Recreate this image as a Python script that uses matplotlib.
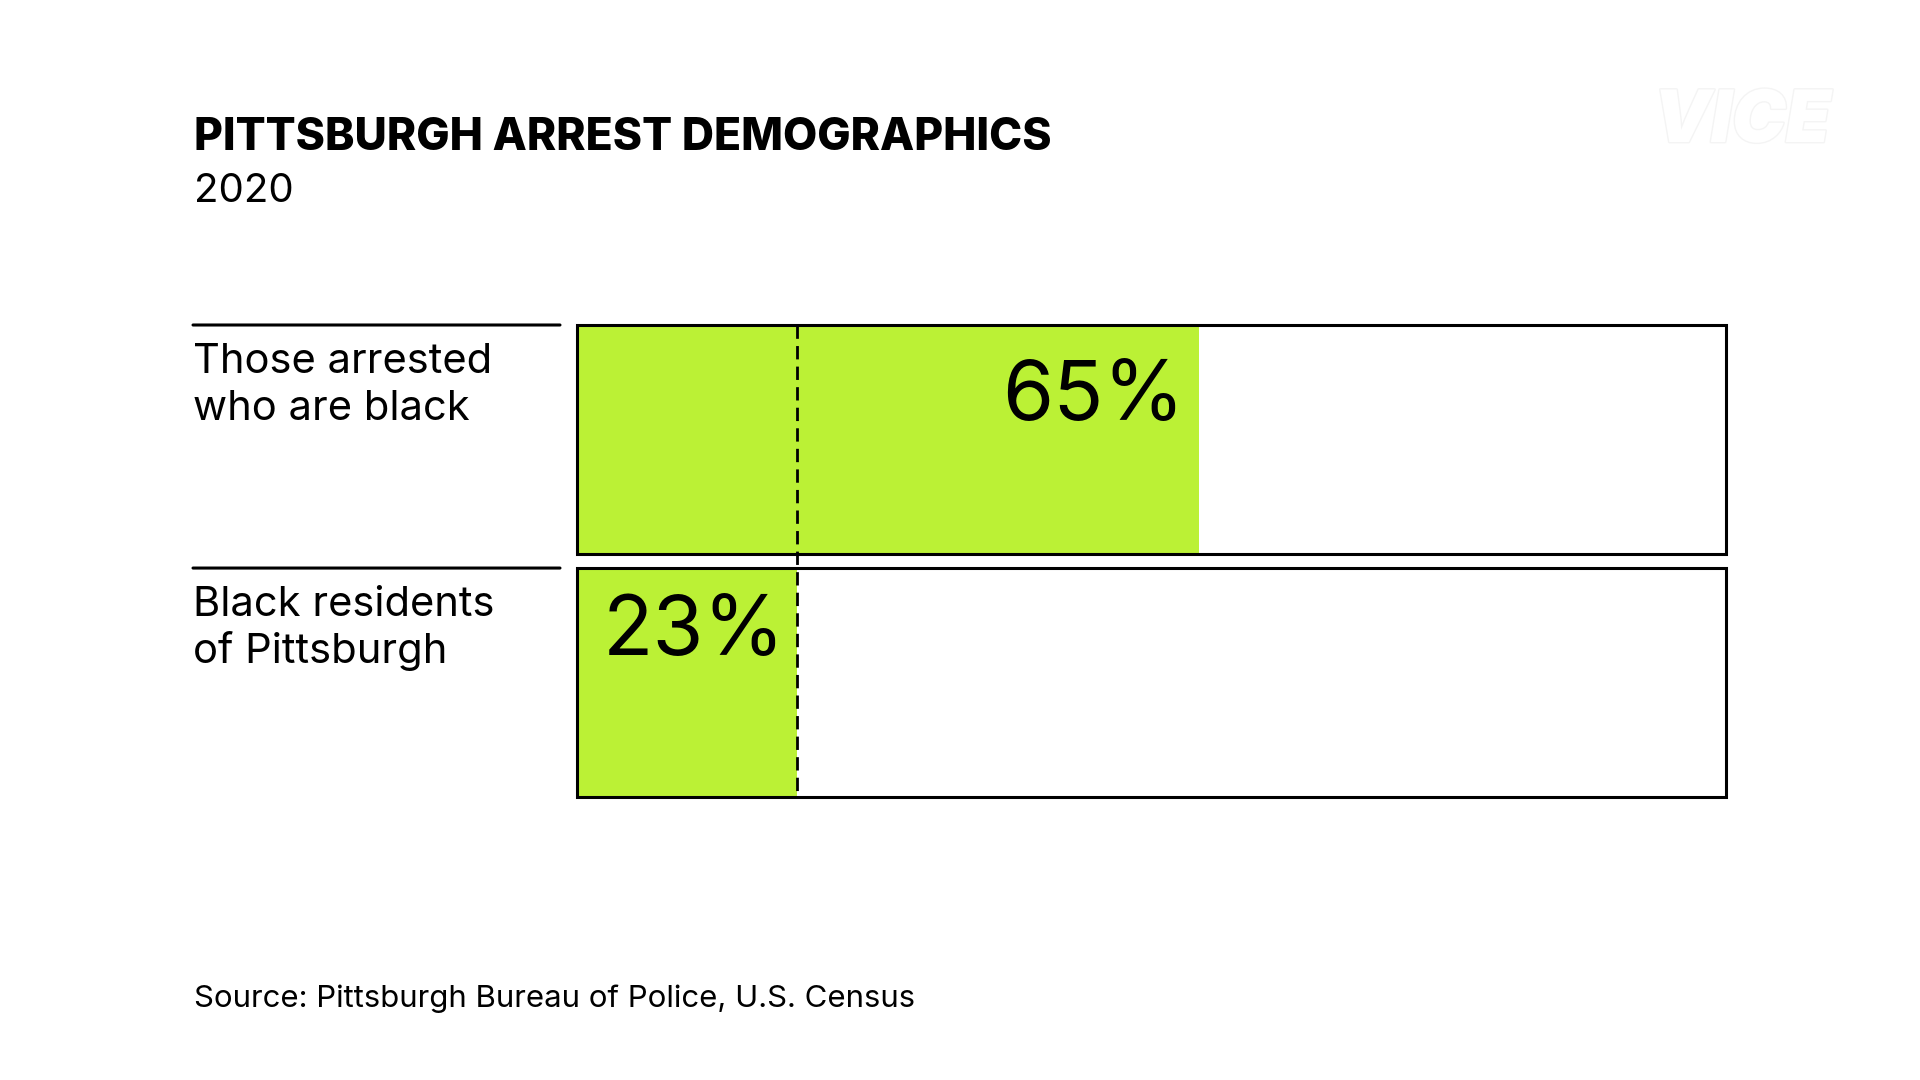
import numpy as np
import matplotlib
matplotlib.use('Agg')
import matplotlib.pyplot as plt
import matplotlib.patheffects as pe

plt.rcParams['font.family'] = ['Inter', 'DejaVu Sans']

# data
labels = [['Those arrested', 'who are black'], ['Black residents', 'of Pittsburgh']]
values = [65, 23]
value_text = ['65%', '23%']
scale_max = 120

title = 'PITTSBURGH ARREST DEMOGRAPHICS'
subtitle = '2020'
source = 'Source: Pittsburgh Bureau of Police, U.S. Census'

GREEN = '#bbf135'
W, H = 1920, 1080
DPI = 100


def fx(px):
    return px / W


def fy(py):
    return 1 - py / H


def main():
    fig = plt.figure(figsize=(W / DPI, H / DPI), dpi=DPI)
    fig.patch.set_facecolor('white')

    # plot area = outer boxes
    ax = fig.add_axes([fx(577), fy(797), fx(1726) - fx(577), (797 - 325) / H])
    ax.set_xlim(0, scale_max)
    ax.set_ylim(1.471, -0.471)
    ax.axis('off')

    ypos = np.arange(len(values))
    bh = 0.942
    ax.barh(ypos, values, height=bh, color=GREEN, edgecolor='none', zorder=1)
    frames = ax.barh(ypos, [scale_max] * len(values), height=bh, fill=False,
                     edgecolor='black', linewidth=2.2, zorder=3)
    for f in frames:
        f.set_clip_on(False)

    # dashed reference line at the residents share
    ax.plot([values[1], values[1]], [-0.471, 1.471], color='black', lw=2.0,
            dashes=(4.8, 2.6), zorder=2, clip_on=False)

    row_top = ypos - bh / 2
    label_off = [(-15, -95), (-12, -87)]
    for i in range(len(values)):
        # rule above category label
        ax.annotate('', xy=(fx(560), row_top[i]), xytext=(fx(193), row_top[i]),
                    xycoords=('figure fraction', 'data'),
                    textcoords=('figure fraction', 'data'),
                    arrowprops=dict(arrowstyle='-', lw=2.2, color='black',
                                    shrinkA=0, shrinkB=0))
        for j, line in enumerate(labels[i]):
            ax.annotate(line, xy=(fx(193), row_top[i]),
                        xycoords=('figure fraction', 'data'),
                        xytext=(0, -48 - 47 * j), textcoords='offset pixels',
                        ha='left', va='baseline', fontsize=30, color='black')
        ax.annotate(value_text[i], xy=(values[i], row_top[i]),
                    xytext=label_off[i], textcoords='offset pixels',
                    ha='right', va='baseline', fontsize=59.5, color='black')

    fig.text(fx(194), fy(150), title, fontsize=32, fontweight='heavy',
             ha='left', va='baseline')
    fig.text(fx(194), fy(202), subtitle, fontsize=29, ha='left', va='baseline')
    fig.text(fx(194), fy(1007), source, fontsize=22.4, ha='left', va='baseline')

    # faint watermark
    fig.text(fx(1742), fy(142), 'VICE', fontsize=52, fontweight='black',
             fontstyle='italic', color='white', ha='center', va='baseline',
             path_effects=[pe.withStroke(linewidth=2, foreground='#f4f4f4')])

    fig.savefig('out.png', dpi=DPI, facecolor='white')


if __name__ == "__main__":
    main()
